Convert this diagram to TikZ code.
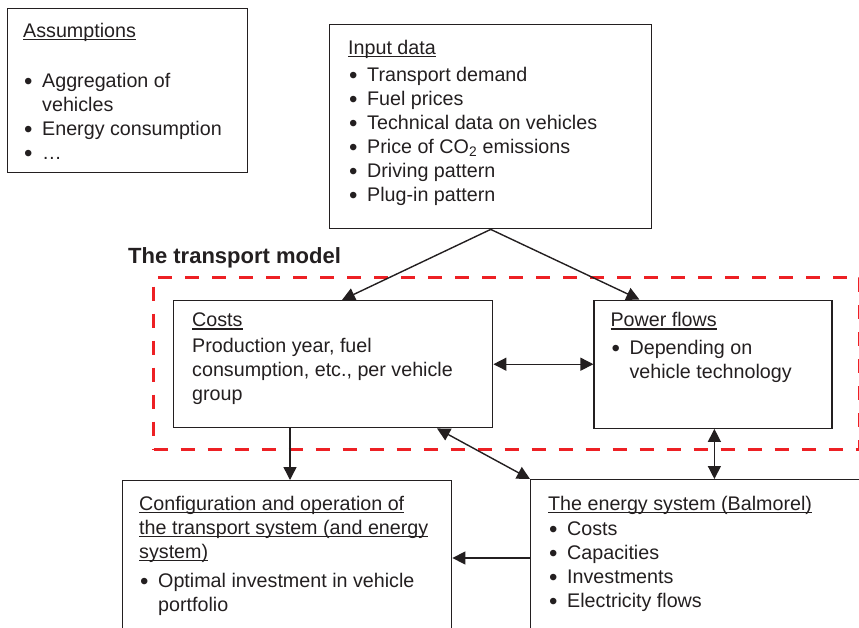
\documentclass[tikz,border=0pt]{standalone}
\usepackage{fontspec}
\setmainfont{Liberation Sans}
\usetikzlibrary{arrows.meta,positioning}
\definecolor{modelred}{RGB}{237,32,36}
\definecolor{ink}{RGB}{35,31,32}
\newsavebox\ulbox
\newcommand{\undl}[1]{\sbox\ulbox{#1}\rlap{\rule[-2.8pt]{\wd\ulbox}{1.4pt}}\usebox\ulbox}
\newcommand{\itm}{\hspace*{1pt}\makebox[18pt][l]{\raisebox{-1.6pt}{\fontsize{24}{24}\selectfont\textbullet}}}
\newcommand{\bulind}{\hspace*{19pt}}

\begin{document}
\begin{tikzpicture}[
  x=1pt, y=-1pt,
  >={Triangle[length=13pt,width=13pt]},
  box/.style={rectangle, draw=ink, line width=1.4pt, inner sep=0pt, anchor=north west},
  txt/.style={inner sep=0pt, align=left, text=ink, font=\fontsize{19.7}{24}\selectfont},
  frame/.style={rectangle, draw=modelred, line width=3pt, dash pattern=on 14pt off 13pt, inner sep=0pt, anchor=north west},
  arr/.style={draw=ink, line width=1.4pt}
]
\useasboundingbox (0,0) rectangle (859,627);
\clip (0,0) rectangle (859,627);

\node[box, minimum width=240pt, minimum height=164pt] (assume) at (7,8) {};
\node[txt, below right=15pt and 16pt of assume.north west] (assume-text) {\undl{Assumptions}\\[26pt]
  \itm Aggregation of\\
  \bulind vehicles\\
  \itm Energy consumption\\
  \itm …};

\node[box, minimum width=322pt, minimum height=204pt] (input) at (329,24) {};
\node[txt, below right=16pt and 19pt of input.north west] (input-text) {\undl{Input data}\\[3pt]
  \itm Transport demand\\
  \itm Fuel prices\\
  \itm Technical data on vehicles\\
  \itm Price of CO\textsubscript{2} emissions\\
  \itm Driving pattern\\
  \itm Plug-in pattern};

% the transport model
\node[frame, minimum width=706pt, minimum height=172pt] (model) at (152,276) {};
\node[txt, font=\fontsize{22}{24}\selectfont\bfseries, anchor=base west] (model-title) at (128,263) {The transport model};

\node[box, minimum width=319pt, minimum height=127pt] (costs) at (173,300) {};
\node[txt, below right=13pt and 19pt of costs.north west] (costs-text) {\undl{Costs}\\[2pt]
  Production year, fuel\\
  consumption, etc., per vehicle\\
  group};
\node[box, minimum width=238pt, minimum height=128pt, right=100pt of costs] (power) {};
\node[txt, below right=13pt and 17pt of power.north west] (power-text) {\undl{Power flows}\\[4pt]
  \itm Depending on\\
  \bulind vehicle technology};

% results
\node[box, minimum width=329pt, minimum height=200pt] (config) at (122,480) {};
\node[txt, below right=16pt and 17pt of config.north west] (config-text) {\undl{Configuration and operation of}\\
  \undl{the transport system (and energy}\\
  \undl{system)}\\[5pt]
  \itm Optimal investment in vehicle\\
  \bulind portfolio};
\node[box, minimum width=360pt, minimum height=200pt] (energy) at (530,479) {};
\node[txt, below right=17pt and 18pt of energy.north west] (energy-text) {\undl{The energy system (Balmorel)}\\[1pt]
  \itm Costs\\
  \itm Capacities\\
  \itm Investments\\
  \itm Electricity flows};

\draw[arr, ->] (input.south) -- ([xshift=169pt]costs.north west);
\draw[arr, ->] (input.south) -- ([xshift=46pt]power.north west);
\draw[arr, <->] (costs.east) -- (power.west);
\draw[arr, ->] ([xshift=117pt]costs.south west) coordinate (c1) -- (c1 |- config.north);
\draw[arr, <->] ([xshift=264pt]costs.south west) -- (energy.north west);
\draw[arr, <->] ([xshift=121pt]power.south west) coordinate (p1) -- (p1 |- energy.north);
\draw[arr, ->] ([yshift=-79pt]energy.north west) coordinate (e1) -- (e1 -| config.east);
\end{tikzpicture}
\end{document}
